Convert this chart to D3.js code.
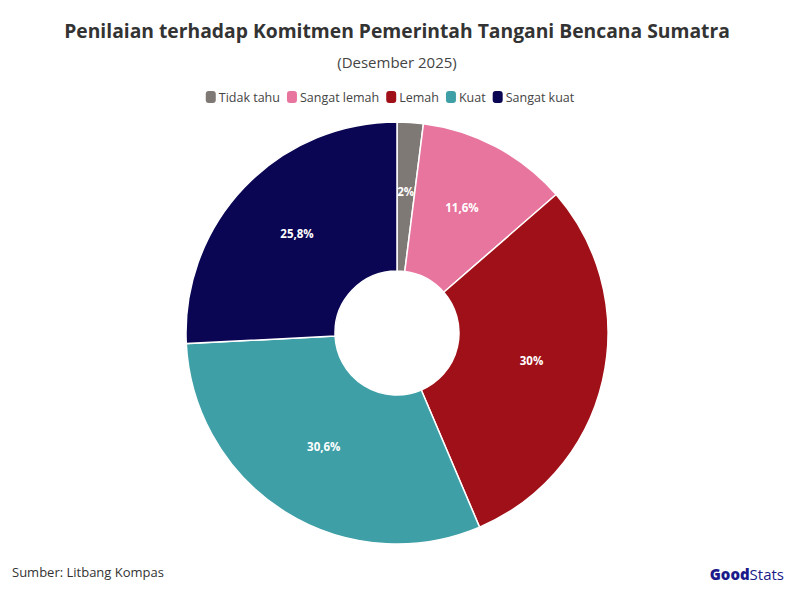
<!DOCTYPE html><html><head><meta charset="utf-8"><script src="https://cdn.jsdelivr.net/npm/d3@7"></script>
<style>body{margin:0;background:#fff}svg{font-family:"Open Sans",Lato,sans-serif}</style></head><body><svg width="794" height="593"></svg><script>
const categories=["Tidak tahu","Sangat lemah","Lemah","Kuat","Sangat kuat"];
const values=[2,11.6,30,30.6,25.8];
const labels=["2%","11,6%","30%","30,6%","25,8%"];
const colors=["#7f7975","#e8759e","#a01018","#3e9fa7","#0a0653"];
const svg=d3.select("svg");
svg.append("text").attr("x",397).attr("y",38).attr("text-anchor","middle").attr("font-size",19.3).attr("font-weight",700).attr("fill","#333").text("Penilaian terhadap Komitmen Pemerintah Tangani Bencana Sumatra");
svg.append("text").attr("x",397).attr("y",68).attr("text-anchor","middle").attr("font-size",15).attr("fill","#444").text("(Desember 2025)");
const lg=svg.append("g");let x=202;
categories.forEach((c,i)=>{const g=lg.append("g");g.append("rect").attr("x",x).attr("y",91).attr("width",10).attr("height",12).attr("rx",3).attr("fill",colors[i]);
const t=g.append("text").attr("x",x+13).attr("y",102).attr("font-size",12.5).attr("fill","#444").text(c);x+=13+t.node().getComputedTextLength()+7;});
const w=x-7-202;lg.attr("transform",`translate(${(390-w/2)-202},0)`);
const cx=397,cy=333;
const pie=d3.pie().sort(null)(values);
const arc=d3.arc().innerRadius(62).outerRadius(211);
const g=svg.append("g").attr("transform",`translate(${cx},${cy})`);
g.selectAll("path").data(pie).enter().append("path").attr("d",arc).attr("fill",(d,i)=>colors[i]).attr("stroke","#fff").attr("stroke-width",1.5);
const la=d3.arc().innerRadius(138).outerRadius(138);
g.selectAll("text.l").data(pie).enter().append("text").attr("transform",d=>`translate(${la.centroid(d)})`).attr("text-anchor","middle").attr("dy","0.05em").attr("font-size",11.5).attr("font-weight",700).attr("fill","#fff").text((d,i)=>labels[i]);
svg.append("text").attr("x",12).attr("y",577).attr("font-size",13).attr("fill","#333").text("Sumber: Litbang Kompas");
const lo=svg.append("text").attr("x",784).attr("y",580).attr("text-anchor","end").attr("font-size",15).attr("fill","#1a1a8a");
lo.append("tspan").attr("font-weight",800).text("Good");lo.append("tspan").attr("font-weight",400).text("Stats");
</script></body></html>
